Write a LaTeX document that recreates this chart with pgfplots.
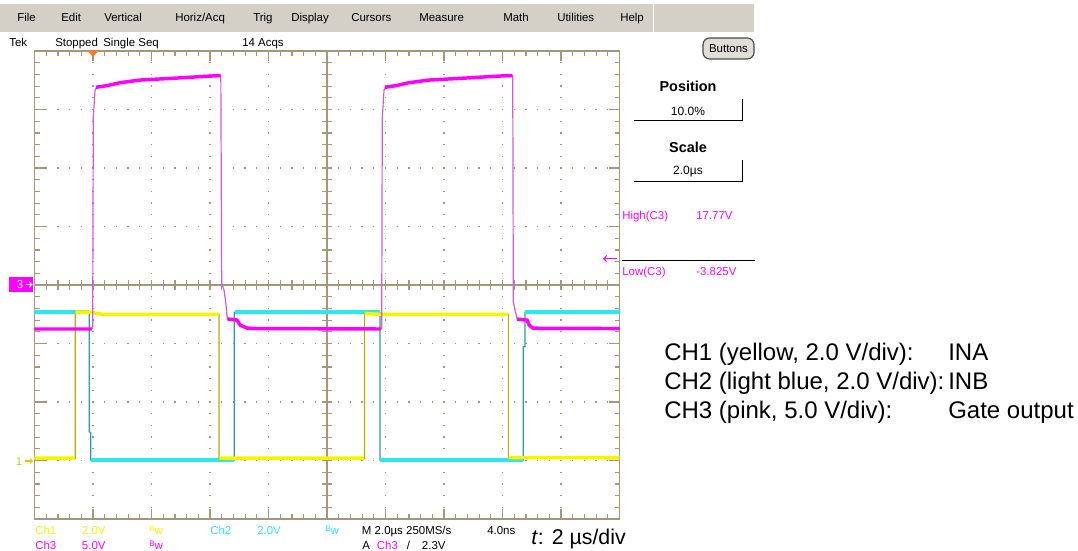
\documentclass[border=0pt]{standalone}
\usepackage{pgfplots}
\pgfplotsset{compat=1.18}
\usepackage{pgfplotstable}
\usepackage{fontspec}
\setmainfont{Liberation Sans}

\definecolor{menugray}{HTML}{D4D0C8}
\definecolor{gridtan}{HTML}{A39978}
\definecolor{chyellow}{HTML}{F5F500}
\definecolor{chyellowedge}{HTML}{B4AE00}
\definecolor{chcyan}{HTML}{2EE6F0}
\definecolor{chcyanedge}{HTML}{2A9CA6}
\definecolor{chpink}{HTML}{FF00FF}
\definecolor{chpinkedge}{HTML}{D25AD8}
\definecolor{trigorange}{HTML}{F47A30}

\newcommand\ui{\fontsize{8.6pt}{10pt}\selectfont}
\newcommand\bw{\raisebox{1.6pt}{\fontsize{6pt}{6pt}\selectfont B}w}

% CH2 (light blue) full trace, volts
\pgfplotstableread{
t V
-2 5.07
-0.13 5.07
-0.13 0.98
-0.08 0.96
-0.08 0.02
4.83 0.02
4.83 5.07
9.81 5.07
9.81 0.02
14.71 0.02
14.71 3.89
14.77 3.89
14.77 5.07
18 5.07
}\chtwotrace
\pgfplotstableread{
t V
-2 5.07
-0.14 5.07
-0.1 nan
-0.07 0.02
4.82 0.02
4.83 nan
4.84 5.07
9.80 5.07
9.81 nan
9.82 0.02
14.70 0.02
14.74 nan
14.78 5.07
18 5.07
}\chtwolevel

% CH1 (yellow) full trace, volts
\pgfplotstableread{
t V
-2 0.08
-0.61 0.08
-0.61 5.07
-0.1 5.07
0.3 5.0
4.31 5.0
4.31 0.08
9.28 0.08
9.28 5.03
9.8 5.0
14.20 5.0
14.20 0.1
18 0.1
}\chonetrace
\pgfplotstableread{
t V
-2 0.08
-0.62 0.08
-0.61 nan
-0.60 5.07
-0.1 5.07
0.3 5.0
4.30 5.0
4.31 nan
4.32 0.08
9.27 0.08
9.28 nan
9.29 5.03
9.8 5.0
14.19 5.0
14.20 nan
14.21 0.1
18 0.1
}\chonelevel

% CH3 (pink) full trace, volts
\pgfplotstableread{
t V
-2 -3.76
-0.05 -3.76
-0.01 -3.6
0.01 14.27
0.07 16.67
0.13 16.95
0.24 16.95
0.5 17.05
0.92 17.29
1.61 17.52
2.87 17.69
3.6 17.80
4.24 17.89
4.37 17.89
4.40 0.17
4.48 -0.43
4.55 -1.71
4.58 -2.65
4.62 -2.99
4.92 -2.99
5.03 -3.42
5.26 -3.68
5.6 -3.72
9.84 -3.76
9.87 -3.6
9.89 14.27
9.95 16.67
10.01 16.95
10.12 16.95
10.38 17.05
10.80 17.29
11.49 17.52
12.75 17.69
13.48 17.80
14.12 17.89
14.35 17.89
14.37 -1.43
14.43 -2.14
14.50 -2.91
14.84 -3.0
14.91 -3.42
15.04 -3.68
15.28 -3.70
18 -3.72
}\chthreetrace
\pgfplotstableread{
t V
-2 -3.76
-0.04 -3.76
0.0 nan
0.10 16.9
0.24 16.95
0.5 17.05
0.92 17.29
1.61 17.52
2.87 17.69
3.6 17.80
4.24 17.89
4.36 17.89
4.4 nan
4.60 -2.9
4.92 -2.99
5.03 -3.42
5.26 -3.68
5.6 -3.72
9.85 -3.76
9.9 nan
9.98 16.9
10.12 16.95
10.38 17.05
10.80 17.29
11.49 17.52
12.75 17.69
13.48 17.80
14.12 17.89
14.34 17.89
14.4 nan
14.50 -2.91
14.84 -3.0
14.91 -3.42
15.04 -3.68
15.28 -3.70
18 -3.72
}\chthreelevel

\begin{document}
\begin{tikzpicture}[x=0.75pt,y=-0.75pt]
\path[use as bounding box] (0,0) rectangle (1078,550);

% menu bar
\fill[menugray] (0,3) rectangle (754,32);
\draw[white, line width=0.75pt] (653,3) -- (653,32);
\draw[white, line width=0.75pt] (0,3) -- (754,3);
\begin{scope}[every node/.style={anchor=base west, inner sep=0pt, font=\ui}]
\node at (17,21.5) {File};
\node at (61,21.5) {Edit};
\node at (104,21.5) {Vertical};
\node at (175,21.5) {Horiz/Acq};
\node at (253,21.5) {Trig};
\node at (291,21.5) {Display};
\node at (351,21.5) {Cursors};
\node at (419,21.5) {Measure};
\node at (503,21.5) {Math};
\node at (557,21.5) {Utilities};
\node at (620,21.5) {Help};
% status line
\node at (9,46) {Tek};
\node at (55,46) {Stopped\hspace{4pt}Single Seq};
\node at (242,46) {14 Acqs};
\end{scope}

% Buttons
\draw[fill=menugray!70, draw=black!70, line width=0.9pt, rounded corners=5pt] (703,38) rectangle (754,59);
\node[font=\ui, inner sep=0pt] at (728.5,48.5) {Buttons};

% right panel
\node[font=\fontsize{10.8pt}{12pt}\selectfont\bfseries, inner sep=0pt] at (688,86) {Position};
\node[font=\fontsize{9pt}{10pt}\selectfont, inner sep=0pt] at (688,111) {10.0\%};
\draw[black, line width=0.8pt] (634,120.7) -- (742.7,120.7) -- (742.7,99);
\node[font=\fontsize{10.8pt}{12pt}\selectfont\bfseries, inner sep=0pt] at (688,147) {Scale};
\node[font=\fontsize{9pt}{10pt}\selectfont, inner sep=0pt] at (688,171.7) {2.0µs};
\draw[black, line width=0.8pt] (634,181.7) -- (742.7,181.7) -- (742.7,160);
\begin{scope}[every node/.style={anchor=base west, inner sep=0pt, font=\ui, text=chpink}]
\node at (622,219.7) {High(C3)};
\node at (696,219.7) {17.77V};
\node at (622,275) {Low(C3)};
\node at (696,275) {-3.825V};
\end{scope}
\draw[black, line width=0.8pt] (622,260.3) -- (755,260.3);
\draw[chpink, line width=1pt, <-] (603,258.7) -- (617,258.7);

% graticule centre lines and frame ticks (under traces)
\begin{scope}[gridtan, line width=0.9pt]
\draw[line width=1.1pt] (34.5,285) -- (619.5,285);
\draw[line width=1.1pt] (327,51) -- (327,519);
\foreach \k in {1,...,49} {\draw ({34.5+\k*11.7},280) -- ({34.5+\k*11.7},290);}
\foreach \k in {1,...,39} {\draw (322,{51+\k*11.7}) -- (332,{51+\k*11.7});}
% minor frame ticks
\foreach \k in {1,...,49} {
  \draw ({34.5+\k*11.7},51) -- ++(0,5);
  \draw ({34.5+\k*11.7},519) -- ++(0,-5);}
\foreach \k in {1,...,39} {
  \draw (34.5,{51+\k*11.7}) -- ++(5,0);
  \draw (619.5,{51+\k*11.7}) -- ++(-5,0);}
% major frame ticks
\foreach \k in {1,...,9} {
  \draw ({34.5+\k*58.5},51) -- ++(0,10);
  \draw ({34.5+\k*58.5},519) -- ++(0,-10);}
\foreach \k in {1,...,7} {
  \draw (34.5,{51+\k*58.5}) -- ++(11,0);
  \draw (619.5,{51+\k*58.5}) -- ++(-11,0);}
\end{scope}

\begin{axis}[
  at={(25.875pt,-389.25pt)}, anchor=south west,
  scale only axis, width=438.75pt, height=351pt,
  xmin=-2, xmax=18, ymin=-4, ymax=4,
  xtick={-2,0,...,18}, ytick={-4,-3,...,4},
  xticklabels={}, yticklabels={},
  major tick length=0pt, minor tick length=0pt,
  axis line style={draw=gridtan, line width=1.1pt},
  grid=major,
  major grid style={draw=gridtan, line width=1pt, dash pattern=on 1pt off 7.775pt, dash phase=0.5pt},
  unbounded coords=jump,
]
\addplot[chcyanedge, line width=0.9pt] table[x=t, y expr=\thisrow{V}/2-3] {\chtwotrace};
\addplot[chcyan, line width=2.6pt] table[x=t, y expr=\thisrow{V}/2-3] {\chtwolevel};
\addplot[chyellowedge, line width=0.9pt] table[x=t, y expr=\thisrow{V}/2-3] {\chonetrace};
\addplot[chyellow, line width=2.6pt] table[x=t, y expr=\thisrow{V}/2-3] {\chonelevel};
\addplot[chpinkedge, line width=0.9pt] table[x=t, y expr=\thisrow{V}/5] {\chthreetrace};
\addplot[chpink, line width=2.6pt] table[x=t, y expr=\thisrow{V}/5] {\chthreelevel};
\end{axis}

% trigger position marker
\fill[trigorange] (87,50) -- (99,50) -- (93,57) -- cycle;

% channel ground markers
\fill[chpink] (9.3,276.5) rectangle (33.3,292.3);
\node[font=\ui, text=white, inner sep=0pt] at (20,284.5) {3};
\draw[white, line width=0.8pt, ->] (25.5,284.5) -- (32.5,284.5);
\node[font=\ui, text=chyellow!85!black, inner sep=0pt] at (19,462) {1};
\draw[chyellow!85!black, line width=0.8pt, ->] (25,461) -- (33,461);

% bottom status lines
\begin{scope}[every node/.style={anchor=base west, inner sep=0pt, font=\ui}]
\node[text=chyellow] at (35,534) {Ch1};
\node[text=chyellow] at (81.7,534) {2.0V};
\node[text=chyellow] at (149,534) {\bw};
\node[text=chcyan] at (210,534) {Ch2};
\node[text=chcyan] at (257,534) {2.0V};
\node[text=chcyan] at (325,534) {\bw};
\node at (361.7,534) {M 2.0µs 250MS/s};
\node at (487,534) {4.0ns};
\node[text=chpink] at (35,549) {Ch3};
\node[text=chpink] at (81.7,549) {5.0V};
\node[text=chpink] at (149,549) {\bw};
\node at (362,549) {A};
\node[text=chpink] at (376.7,549) {Ch3};
\node at (406.7,549) {/};
\node at (421.7,549) {2.3V};
\end{scope}
\node[anchor=base west, inner sep=0pt, font=\fontsize{16pt}{18pt}\selectfont] at (531,544.5) {\textit{t}: 2 µs/div};

% channel description
\begin{scope}[every node/.style={anchor=base west, inner sep=0pt, font=\fontsize{18pt}{20pt}\selectfont}]
\node at (664,360) {CH1 (yellow, 2.0 V/div):};
\node at (948,360) {INA};
\node at (664,389) {CH2 (light blue, 2.0 V/div):};
\node at (948,389) {INB};
\node at (664,418) {CH3 (pink, 5.0 V/div):};
\node at (948,418) {Gate output};
\end{scope}
\end{tikzpicture}
\end{document}
